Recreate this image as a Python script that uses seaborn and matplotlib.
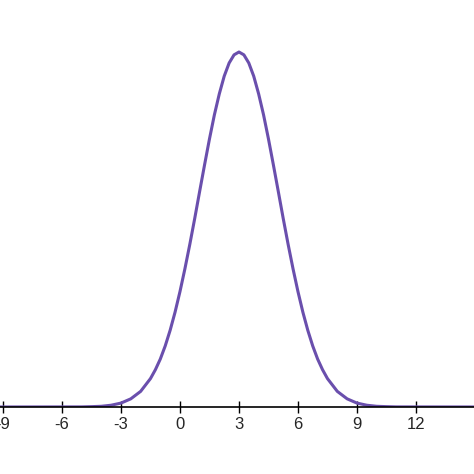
import numpy as np
import matplotlib
matplotlib.use("Agg")
import matplotlib.pyplot as plt
import seaborn as sns

# curve (relative height, peak = 1)
x_vals = [-10, -5, -4.5, -4, -3.5, -3, -2.5, -2, -1.5, -1.25, -1, -0.75, -0.5, -0.25, 0,
          0.25, 0.5, 0.75, 1, 1.25, 1.5, 1.75, 2, 2.25, 2.5, 2.75, 3,
          3.25, 3.5, 3.75, 4, 4.25, 4.5, 4.75, 5, 5.25, 5.5, 5.75, 6, 6.25, 6.5, 6.75, 7,
          7.25, 7.5, 8, 8.5, 9, 9.5, 10, 10.5, 11, 16]
y_vals = [0, 0.0003, 0.001, 0.002, 0.005, 0.011, 0.023, 0.044, 0.080, 0.105, 0.135, 0.172,
          0.216, 0.267, 0.325, 0.389, 0.458, 0.531, 0.607, 0.682, 0.755, 0.823, 0.882,
          0.932, 0.969, 0.992, 1.0, 0.992, 0.969, 0.932, 0.882, 0.823, 0.755, 0.682, 0.607,
          0.531, 0.458, 0.389, 0.325, 0.267, 0.216, 0.172, 0.135, 0.105, 0.080, 0.044,
          0.023, 0.011, 0.005, 0.002, 0.001, 0.0003, 0]
tick_vals = [-9, -6, -3, 0, 3, 6, 9, 12]

sns.set_theme(style="white")
fig = plt.figure(figsize=(4.74, 4.74), dpi=100)
ax = fig.add_axes([0, 67 / 474, 1, 407 / 474])
sns.lineplot(x=x_vals, y=y_vals, ax=ax, color="#6a4fad", linewidth=2.2)
ax.set_xlim(-9.15, 14.95)
ax.set_ylim(0, 407 / 355)
for s in ["left", "top", "right"]:
    ax.spines[s].set_visible(False)
ax.spines["bottom"].set_color("black")
ax.spines["bottom"].set_linewidth(1.2)
ax.set_yticks([])
ax.set_xticks(tick_vals)
ax.set_xticklabels([str(t) for t in tick_vals], fontsize=12, family="Liberation Sans")
ax.tick_params(axis="x", direction="inout", length=8, width=1, color="black", bottom=True, pad=3)
fig.savefig("out.png", dpi=100)
